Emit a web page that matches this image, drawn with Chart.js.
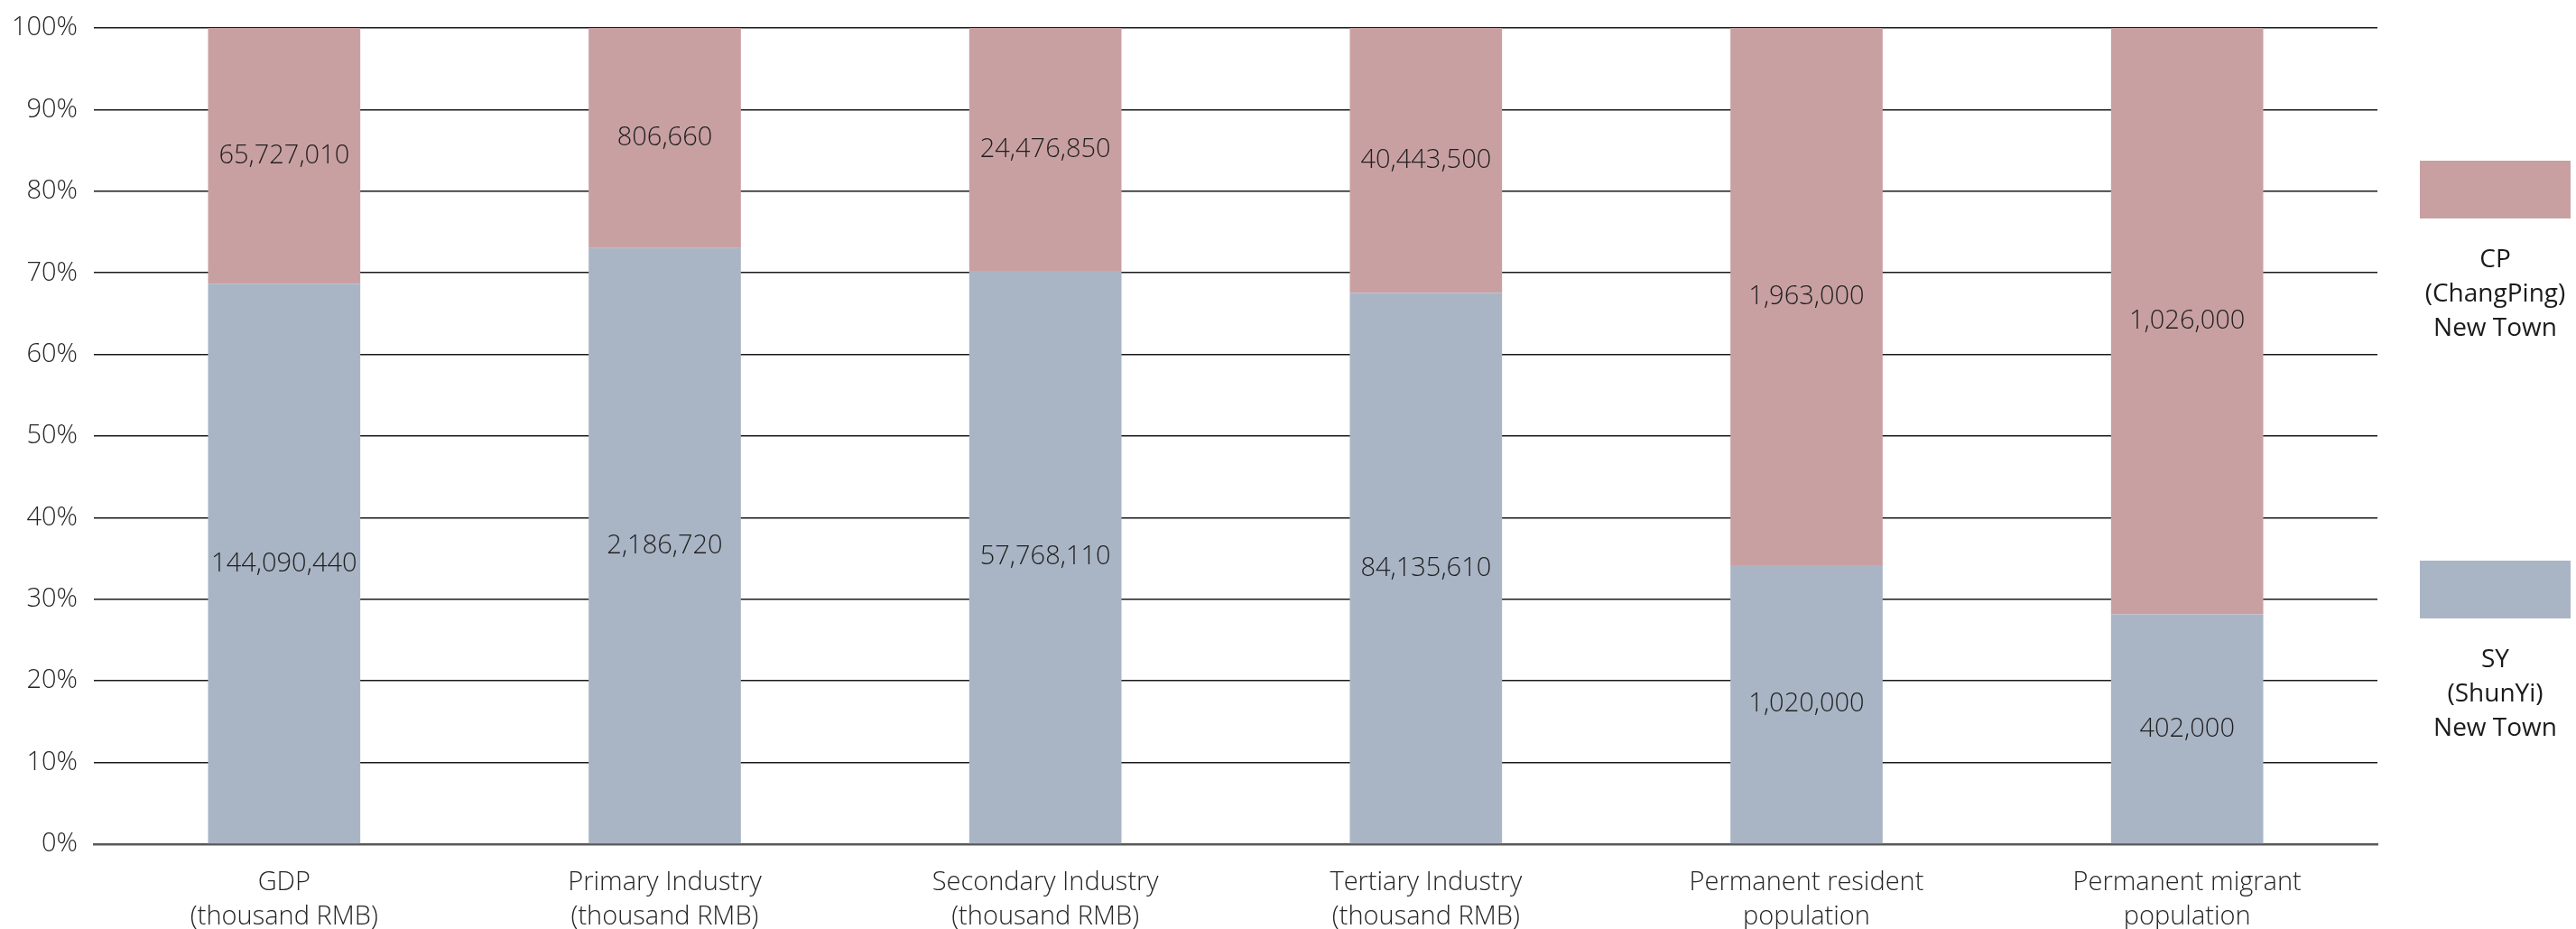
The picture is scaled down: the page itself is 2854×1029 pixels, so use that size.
<!DOCTYPE html>
<html>
<head>
<meta charset="utf-8">
<script src="https://cdn.jsdelivr.net/npm/chart.js@4"></script>
<style>
  html, body { margin: 0; padding: 0; background: #ffffff; }
  #wrap { width: 2854px; height: 1029px; position: relative; }
</style>
</head>
<body>
<div id="wrap"><canvas id="c" width="2854" height="1029"></canvas></div>
<script>
// Indicator categories (multi-line axis labels)
const categories = [
  ["GDP", "(thousand RMB)"],
  ["Primary Industry", "(thousand RMB)"],
  ["Secondary Industry", "(thousand RMB)"],
  ["Tertiary Industry", "(thousand RMB)"],
  ["Permanent resident", "population"],
  ["Permanent migrant", "population"]
];

// Absolute values per new town
const syValues = [144090440, 2186720, 57768110, 84135610, 1020000, 402000];
const cpValues = [65727010, 806660, 24476850, 40443500, 1963000, 1026000];

// Series names (legend, multi-line)
const syName = ["SY", "(ShunYi)", "New Town"];
const cpName = ["CP", "(ChangPing)", "New Town"];

// Percentage axis ticks
const yTicks = [0, 10, 20, 30, 40, 50, 60, 70, 80, 90, 100];

const totals = syValues.map((v, i) => v + cpValues[i]);
const syShare = syValues.map((v, i) => v / totals[i] * 100);
const cpShare = cpValues.map((v, i) => v / totals[i] * 100);

const SY_COLOR = "rgb(169,181,197)";
const CP_COLOR = "rgb(201,160,162)";
const FONT = "'Open Sans', 'Noto Sans', sans-serif";
const fmt = n => n.toLocaleString("en-US");

// Value labels centred inside each stacked segment
const segmentLabels = {
  id: "segmentLabels",
  afterDatasetsDraw(chart) {
    const ctx = chart.ctx;
    ctx.save();
    ctx.font = "300 29px " + FONT;
    ctx.fillStyle = "#1f1f1f";
    ctx.textAlign = "center";
    ctx.textBaseline = "middle";
    chart.data.datasets.forEach((ds, di) => {
      const meta = chart.getDatasetMeta(di);
      meta.data.forEach((bar, i) => {
        const y = (bar.y + bar.base) / 2;
        ctx.fillText(fmt(ds.raw[i]), bar.x, y);
      });
    });
    ctx.restore();
  }
};

// Side legend: colour block with stacked caption lines
const sideLegend = {
  id: "sideLegend",
  afterDraw(chart) {
    const ctx = chart.ctx;
    const area = chart.chartArea;
    const x0 = area.right + 47, w = 167, h = 64;
    const cx = x0 + w / 2;
    const entries = [
      { color: CP_COLOR, lines: cpName, top: 178 },
      { color: SY_COLOR, lines: syName, top: 621 }
    ];
    ctx.save();
    entries.forEach(e => {
      ctx.fillStyle = e.color;
      ctx.fillRect(x0, e.top, w, h);
      ctx.fillStyle = "#1a1a1a";
      ctx.font = "400 28px " + FONT;
      ctx.textAlign = "center";
      ctx.textBaseline = "middle";
      e.lines.forEach((t, k) => ctx.fillText(t, cx, e.top + h + 46 + k * 38));
    });
    ctx.restore();
  }
};

new Chart(document.getElementById("c"), {
  type: "bar",
  data: {
    labels: categories,
    datasets: [
      { label: syName.join(" "), data: syShare, raw: syValues, backgroundColor: SY_COLOR,
        barPercentage: 0.4, categoryPercentage: 1.0 },
      { label: cpName.join(" "), data: cpShare, raw: cpValues, backgroundColor: CP_COLOR,
        barPercentage: 0.4, categoryPercentage: 1.0 }
    ]
  },
  options: {
    responsive: false,
    animation: false,
    devicePixelRatio: 1,
    layout: { padding: { top: 31, right: 220, bottom: 0, left: 0 } },
    plugins: { legend: { display: false }, tooltip: { enabled: false } },
    scales: {
      x: {
        stacked: true,
        grid: { display: false, drawTicks: false },
        border: { display: true, color: "#595959", width: 2.5 },
        ticks: {
          color: "#262626",
          font: { family: FONT, size: 29, weight: 300, lineHeight: 1.3 },
          padding: 24,
          maxRotation: 0, autoSkip: false
        },
        afterFit(s) { s.height = 94; }
      },
      y: {
        stacked: true,
        min: 0, max: 100,
        afterBuildTicks(s) { s.ticks = yTicks.map(v => ({ value: v })); },
        grid: {
          drawTicks: false,
          color: ctx => ctx.tick && ctx.tick.value === 0 ? "rgba(0,0,0,0)" : "#1a1a1a",
          lineWidth: 1.5
        },
        border: { display: false },
        ticks: {
          color: "#262626",
          font: { family: FONT, size: 29, weight: 300, lineHeight: 0.9 },
          padding: 18,
          callback: v => v + "%"
        },
        afterFit(s) { s.width = 104; }
      }
    }
  },
  plugins: [segmentLabels, sideLegend]
});
</script>
</body>
</html>
